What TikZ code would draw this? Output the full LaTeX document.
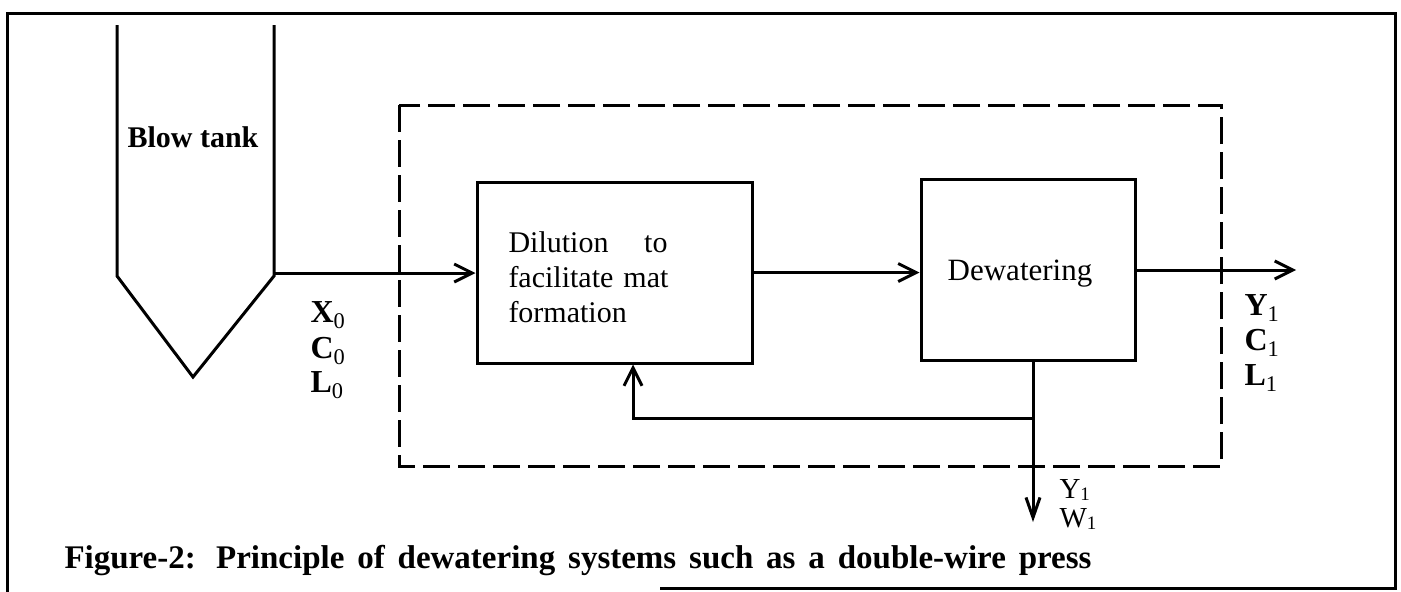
\documentclass[tikz,border=0pt]{standalone}
\usepackage{fontspec}
\setmainfont{Liberation Serif}
\usetikzlibrary{arrows.meta}
\begin{document}
\begin{tikzpicture}[x=1pt,y=-1pt,
  line width=3pt,
  every node/.style={inner sep=0pt, font=\fontsize{30}{35}\selectfont},
  procbox/.style={draw, line width=3pt, minimum width=#1, minimum height=181pt},
  arr/.style={-{Straight Barb[length=18pt,width=18pt]}},
  arrnarrow/.style={-{Straight Barb[length=20pt,width=14pt]}},
  boundary/.style={line width=3pt, dash pattern=on 27pt off 8pt},
  lbl/.style={anchor=base west, font=\bfseries\fontsize{32}{36}\selectfont},
]
\useasboundingbox (0,0) rectangle (1401,592);
% outer frame
\draw (7,592) -- (7,13) -- (1395,13) -- (1395,588) -- (660,588);
% blow tank
\coordinate (tl) at (117,25);
\coordinate (tr) at (274,25);
\coordinate (outlet) at (274,273);
\draw (tl) -- (117,276) -- (193,377) -- (274,276) -- (tr);
\node[font=\bfseries\fontsize{30}{35}\selectfont] (bt) at (193,137) {Blow tank};
% control volume
\draw[boundary] (399,105) rectangle (1221,466);
% process boxes
\node[procbox=275pt] (dil) at (614.5,272.5) {};
\node[anchor=west, align=left, text width=162pt] (diltext) at (507,277) {\makebox[159pt][l]{Dilution\hfill to}\\\mbox{facilitate mat}\\formation};
\node[procbox=214pt] (dew) at (1028,269.5) {};
\node[anchor=base, font=\fontsize{31}{35}\selectfont] (dewtext) at (1020,280) {Dewatering};
% flows
\draw[arr] (outlet) -- (outlet -| dil.west);
\draw[arr] (dil.east) -- (dil.east -| dew.west);
\coordinate (prod) at (1296,270);
\draw[arr] (dew.east |- prod) -- (prod);
\coordinate (split) at (1033,418);
\coordinate (fb) at (633,418);
\coordinate (drain) at (1033,522);
\draw[arrnarrow] (dew.south -| split) -- (drain);
\draw[arr] (split) -- (fb) -- (fb |- dil.south);
% stream labels
\node[lbl] (x0) at (309,322) {X\textsubscript{\normalfont 0}};
\node[lbl] (c0) at (309,358) {C\textsubscript{\normalfont 0}};
\node[lbl] (l0) at (309,392) {L\textsubscript{\normalfont 0}};
\node[lbl] (y1) at (1243,315) {Y\textsubscript{\normalfont 1}};
\node[lbl] (c1) at (1243,350) {C\textsubscript{\normalfont 1}};
\node[lbl] (l1) at (1243,385) {L\textsubscript{\normalfont 1}};
\node[anchor=north west, align=left, font=\fontsize{29}{29}\selectfont] (yw1) at (1058,478)
  {Y\raisebox{-2pt}{\fontsize{19}{19}\selectfont 1}\\W\raisebox{-2pt}{\fontsize{19}{19}\selectfont 1}};
% caption
\node[anchor=base west, font=\bfseries\fontsize{33}{38}\selectfont] (cap) at (63,568)
  {\makebox[1027pt][s]{Figure-2: Principle of dewatering systems such as a double-wire press}};
\end{tikzpicture}
\end{document}
